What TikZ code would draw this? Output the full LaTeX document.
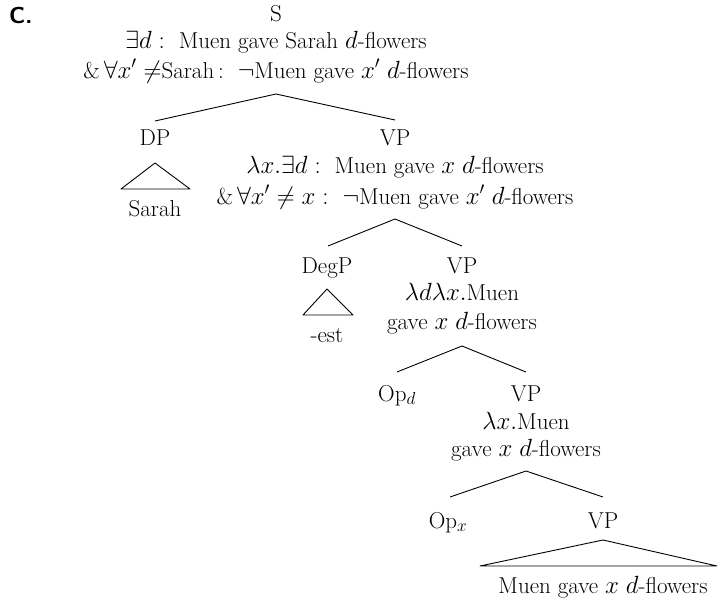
\documentclass[tikz,border=0pt]{standalone}
\begin{document}
\begin{tikzpicture}[x=1pt,y=-1pt,
  every node/.style={font=\fontsize{23}{28}\selectfont, inner sep=0pt},
  lbl/.style={anchor=base},
  edge/.style={line width=0.9pt, line join=round}]
\useasboundingbox (0,0) rectangle (718,600);
% label
\node[anchor=base west, font=\fontsize{23}{28}\selectfont\sffamily\bfseries] (C) at (9,23) {C.};
% S
\node[lbl] (S) at (276,21) {S};
\node[lbl] (Ss1) at (276,48) {$\exists d:$\ \ Muen gave Sarah $d$-flowers};
\node[lbl] (Ss2) at (276,78) {\&\,$\forall x' \neq$Sarah\,:\ \ $\neg$Muen gave $x'$ $d$-flowers};
\coordinate (Sa) at (276,94);
\coordinate (DPt) at (155,121);
\coordinate (VPt) at (395,120);
\draw[edge] (DPt) -- (Sa) -- (VPt);
% DP
\node[lbl] (DP) at (155,145) {DP};
\coordinate (DPa) at (155,163);
\coordinate (DPl) at (121,189);
\coordinate (DPr) at (190,189);
\draw[edge] (DPl) -- (DPa) -- (DPr) -- cycle;
\node[lbl] (Sarah) at (155,216) {Sarah};
% VP1
\node[lbl] (VP1) at (395,145) {VP};
\node[lbl] (VP1s1) at (395,173) {$\lambda x.\exists d:$\ \ Muen gave $x$ $d$-flowers};
\node[lbl] (VP1s2) at (395,204) {\&\,$\forall x' \neq x:$\ \ $\neg$Muen gave $x'$ $d$-flowers};
\coordinate (VP1a) at (395,219);
\coordinate (DegPt) at (328,246);
\coordinate (VP2t) at (462,246);
\draw[edge] (DegPt) -- (VP1a) -- (VP2t);
% DegP
\node[lbl] (DegP) at (327,273) {DegP};
\coordinate (Dega) at (327,289);
\coordinate (Degl) at (303,315);
\coordinate (Degr) at (353,315);
\draw[edge] (Degl) -- (Dega) -- (Degr) -- cycle;
\node[lbl] (est) at (327,342) {-est};
% VP2
\node[lbl] (VP2) at (462,273) {VP};
\node[lbl] (VP2s1) at (462,300) {$\lambda d\lambda x.$Muen};
\node[lbl] (VP2s2) at (462,329) {gave $x$ $d$-flowers};
\coordinate (VP2a) at (462,346);
\coordinate (Opdt) at (397,372);
\coordinate (VP3t) at (526,372);
\draw[edge] (Opdt) -- (VP2a) -- (VP3t);
% Op_d
\node[lbl] (Opd) at (397,401) {Op$_d$};
% VP3
\node[lbl] (VP3) at (526,401) {VP};
\node[lbl] (VP3s1) at (526,429) {$\lambda x.$Muen};
\node[lbl] (VP3s2) at (526,456) {gave $x$ $d$-flowers};
\coordinate (VP3a) at (526,471);
\coordinate (Opxt) at (450,497);
\coordinate (VP4t) at (603,497);
\draw[edge] (Opxt) -- (VP3a) -- (VP4t);
% Op_x
\node[lbl] (Opx) at (448,528) {Op$_x$};
% VP4
\node[lbl] (VP4) at (603,528) {VP};
\coordinate (VP4a) at (603,540);
\coordinate (VP4l) at (480,566);
\coordinate (VP4r) at (717,566);
\draw[edge] (VP4l) -- (VP4a) -- (VP4r) -- cycle;
\node[lbl] (VP4s) at (603,593) {Muen gave $x$ $d$-flowers};
\end{tikzpicture}
\end{document}
